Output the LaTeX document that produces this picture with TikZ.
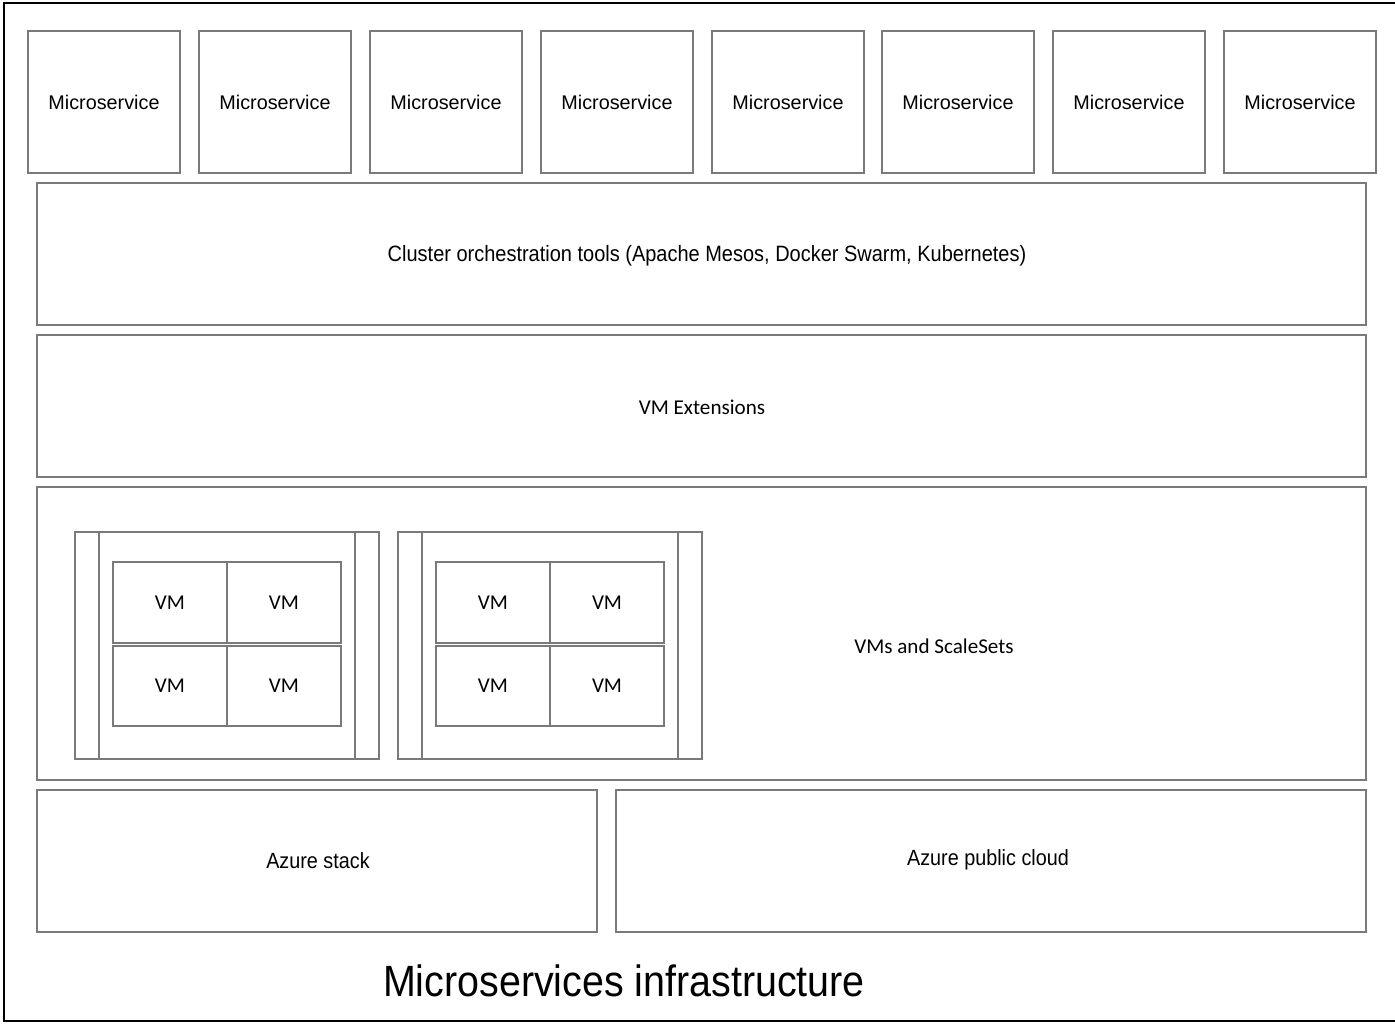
\documentclass[tikz,border=0pt]{standalone}
\usepackage{fontspec}
\setmainfont{Liberation Sans}
\newfontfamily\condfont[FakeStretch=0.9]{Liberation Sans}
\newfontfamily\calfont{Carlito}
\definecolor{boxgray}{HTML}{7A7A7A}
\begin{document}
\begin{tikzpicture}[x=1pt,y=-1pt,
  box/.style={draw=boxgray, line width=1.6pt, rectangle, inner sep=0pt, outer sep=0pt},
  ms/.style={box, minimum width=152pt, minimum height=142pt, font=\fontsize{19.8}{22}\selectfont},
  calt/.style={font=\calfont\fontsize{21.1}{24}\selectfont},
  condt/.style={font=\condfont\fontsize{22}{24}\selectfont},
  vm/.style={box, minimum width=114pt, calt},
  grp/.style={box, minimum width=304pt, minimum height=227pt}
]
\useasboundingbox (0,0) rectangle (1395,1023);
\fill[white] (0,0) rectangle (1395,1023);
% outer frame
\draw[line width=2.6pt, black] (1395,3) -- (4,3) -- (4,1021) -- (1395,1021);

% microservices
\foreach \i/\cx in {1/104,2/275,3/446,4/617,5/788,6/958,7/1129,8/1300}{
  \node[ms] (ms\i) at (\cx,102) {Microservice};
}

% layers
\node[box, minimum width=1329pt, minimum height=142pt] (cluster) at (701.5,254) {};
\node[font=\condfont\fontsize{22.2}{26}\selectfont] (clusterlbl) at (707,256) {Cluster orchestration tools (Apache Mesos, Docker Swarm, Kubernetes)};
\node[box, minimum width=1329pt, minimum height=142pt] (ext) at (701.5,406) {};
\node[calt] (extlbl) at (702,407) {VM Extensions};
\node[box, minimum width=1329pt, minimum height=293pt] (vms) at (701.5,633.5) {};
\node[calt] (vmslbl) at (934,646) {VMs and ScaleSets};

% VM groups
\foreach \g/\cx in {1/227,2/550}{
  \node[grp] (g\g) at (\cx,645.5) {};
  \draw[boxgray, line width=1.6pt] ([xshift=24pt]g\g.north west) -- ([xshift=24pt]g\g.south west);
  \draw[boxgray, line width=1.6pt] ([xshift=-24pt]g\g.north east) -- ([xshift=-24pt]g\g.south east);
  \node[vm, minimum height=81pt] (g\g a) at (\cx-57,602.5) {VM};
  \node[vm, minimum height=81pt] (g\g b) at (\cx+57,602.5) {VM};
  \node[vm, minimum height=80pt] (g\g c) at (\cx-57,686) {VM};
  \node[vm, minimum height=80pt] (g\g d) at (\cx+57,686) {VM};
}

% bottom
\node[box, minimum width=560pt, minimum height=142pt] (stack) at (317,861) {};
\node[condt] (stacklbl) at (318,861) {Azure stack};
\node[box, minimum width=750pt, minimum height=142pt] (pub) at (991,861) {};
\node[condt] (publbl) at (988,860) {Azure public cloud};

\node[font=\condfont\fontsize{43.8}{48}\selectfont] (title) at (624,981) {Microservices infrastructure};
\end{tikzpicture}
\end{document}
